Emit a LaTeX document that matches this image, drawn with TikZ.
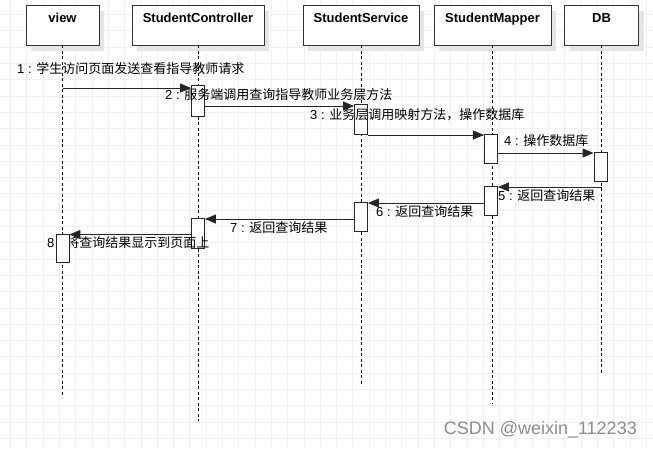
\documentclass[tikz,border=0pt]{standalone}
\usepackage{fontspec}
\setmainfont{Liberation Sans}
\newfontfamily\cjk{Noto Sans CJK SC}
\usetikzlibrary{arrows.meta,shadows}

\tikzset{
  head/.style={draw=black!80, line width=0.9pt, fill=white, inner sep=0pt,
    minimum height=40pt, text height=17.7pt, text depth=22.3pt,
    font=\fontsize{13}{15}\selectfont\bfseries,
    drop shadow={shadow xshift=5pt, shadow yshift=-6pt, fill=black!10, opacity=1}},
  lifeline/.style={black, line width=0.9pt, dash pattern=on 3pt off 2.5pt},
  act/.style={draw=black!85, line width=0.9pt, fill=white, minimum width=13pt, inner sep=0pt},
  msg/.style={black!85, line width=0.9pt, -{Triangle[length=11pt,width=9pt]}},
  msglabel/.style={anchor=west, inner sep=0pt, font=\fontsize{13}{15}\selectfont}
}

\begin{document}
\begin{tikzpicture}[x=1pt,y=-1pt]
\useasboundingbox (0,0) rectangle (653,448);
% background grid
\foreach \i in {0,...,39}
  \draw[black!6, line width=0.8pt] ({10.5+16.3*\i},0) -- ({10.5+16.3*\i},448);
\foreach \j in {0,...,26}
  \draw[black!6, line width=0.8pt] (0,{14.5+16.3*\j}) -- (653,{14.5+16.3*\j});

% lifeline heads
\node[head, minimum width=73pt] (view) at (62.5,25) {view};
\node[head, minimum width=132pt] (ctrl) at (198,25) {StudentController};
\node[head, minimum width=116pt] (serv) at (361,25) {StudentService};
\node[head, minimum width=117pt] (mapp) at (492.5,25) {StudentMapper};
\node[head, minimum width=74pt] (db) at (601.5,25) {DB};

% lifelines
\draw[lifeline] (view.south) -- ++(0,352);
\draw[lifeline] (ctrl.south) -- ++(0,376);
\draw[lifeline] (serv.south) -- ++(0,341);
\draw[lifeline] (mapp.south) -- ++(0,359);
\draw[lifeline] (db.south) -- ++(0,328);

% activations
\node[act, minimum height=31pt] (c1) at (198,100.5) {};
\node[act, minimum height=30pt] (s1) at (361,119) {};
\node[act, minimum height=29pt] (m1) at (491,148.5) {};
\node[act, minimum height=29pt] (d1) at (600.5,166.5) {};
\node[act, minimum height=29pt] (m2) at (491,200.5) {};
\node[act, minimum height=29pt] (s2) at (361,216.5) {};
\node[act, minimum height=30pt] (c2) at (198,233) {};

% message labels
\node[msglabel] (l1) at (17,69) {1 : {\cjk 学生访问页面发送查看指导教师请求}};
\node[msglabel] (l2) at (165,95) {2 : {\cjk 服务端调用查询指导教师业务层方法}};
\node[msglabel] (l3) at (310,115) {3 : {\cjk 业务层调用映射方法，操作数据库}};
\node[msglabel] (l4) at (504,141) {4 : {\cjk 操作数据库}};
\node[msglabel] (l5) at (498,196) {5 : {\cjk 返回查询结果}};
\node[msglabel] (l6) at (376,212) {6 : {\cjk 返回查询结果}};
\node[msglabel] (l7) at (230,228) {7 : {\cjk 返回查询结果}};
\node[msglabel] (l8) at (47,243) {8 : {\cjk 将查询结果显示到页面上}};

\node[act, minimum height=28pt] (v1) at (62.5,248) {};

% message levels
\coordinate (y1) at (0,88);
\coordinate (y2) at (0,106);
\coordinate (y3) at (0,135);
\coordinate (y4) at (0,153);
\coordinate (y5) at (0,187);
\coordinate (y6) at (0,203);
\coordinate (y7) at (0,219);
\coordinate (y8) at (0,234.5);

% messages
\draw[msg] (view.south |- y1) -- (c1.west |- y1);
\draw[msg] (c1.east |- y2) -- (s1.west |- y2);
\draw[msg] (s1.east |- y3) -- (m1.west |- y3);
\draw[msg] (m1.east |- y4) -- (d1.west |- y4);
\draw[msg] (db.south |- y5) -- (m2.east |- y5);
\draw[msg] (m2.west |- y6) -- (s2.east |- y6);
\draw[msg] (s2.west |- y7) -- (c2.east |- y7);
\draw[msg] (c2.west |- y8) -- (v1.east |- y8);

% watermark
\node[anchor=east, inner sep=0pt, text=black!45, font=\fontsize{18}{20}\selectfont] (mark) at (637,430) {CSDN @weixin\_112233};
\end{tikzpicture}
\end{document}
